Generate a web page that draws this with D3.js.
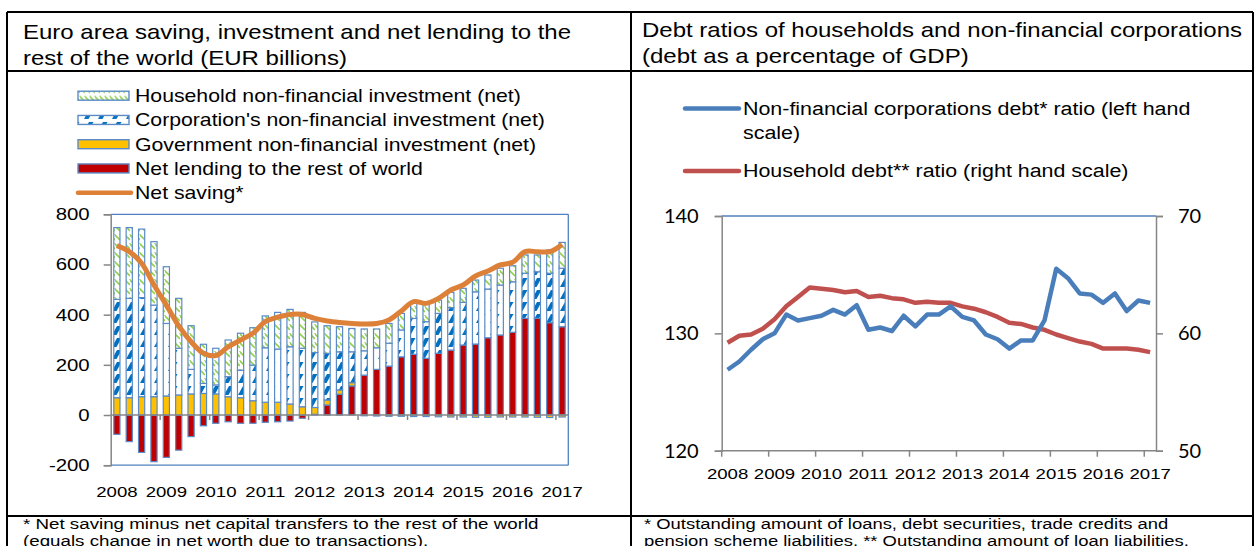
<!DOCTYPE html>
<html>
<head>
<meta charset="utf-8">
<script src="https://cdn.jsdelivr.net/npm/d3@7"></script>
<style>
  body { margin: 0; background: #fff; }
  svg text { font-family: "Liberation Sans", Arial, sans-serif; fill: #000; }
</style>
</head>
<body>
<div id="chart"></div>
<script>
// quarters 2008Q1 .. 2017Q1
var quarters = ['2008Q1','2008Q2','2008Q3','2008Q4','2009Q1','2009Q2','2009Q3','2009Q4',
  '2010Q1','2010Q2','2010Q3','2010Q4','2011Q1','2011Q2','2011Q3','2011Q4',
  '2012Q1','2012Q2','2012Q3','2012Q4','2013Q1','2013Q2','2013Q3','2013Q4',
  '2014Q1','2014Q2','2014Q3','2014Q4','2015Q1','2015Q2','2015Q3','2015Q4',
  '2016Q1','2016Q2','2016Q3','2016Q4','2017Q1'];
var year_labels = ['2008','2009','2010','2011','2012','2013','2014','2015','2016','2017'];

// left panel, EUR billions
var household_inv = [286,282,273,253,226,199,174,156,146,146,147,149,127,146,149,143,122,110,100,93,
  87,75,79,66,60,69,53,61,56,47,56,67,64,73,67,93,103];
var corporate_inv = [392,396,395,365,289,186,98,40,36,80,110,142,217,212,228,233,219,186,152,123,
  97,86,91,107,143,146,159,169,170,208,194,199,201,180,186,197,233];
var government_inv = [69,69,73,73,76,80,84,86,84,73,69,57,51,51,44,33,27,20,17,13,
  -3,-4,-5,-5,-6,-6,-7,-8,-8,-9,-9,-8,-8,-8,-9,-10,-8];
var net_lending = [-77,-106,-149,-186,-169,-140,-86,-43,-33,-27,-33,-33,-29,-27,-24,-13,3,40,83,116,
  159,182,195,232,242,226,246,259,279,283,308,319,330,385,385,368,352];
var net_saving = [675,651,605,518,438,355,292,246,237,272,299,326,372,390,401,401,385,375,369,365,
  363,365,379,415,452,445,465,498,518,554,574,598,609,651,651,651,680];
var left_ticks = [-200,0,200,400,600,800];

// right panel, % of GDP
var nfc_debt = [126.9,127.6,128.6,129.5,130.0,131.6,131.1,131.3,131.5,132.0,131.6,132.4,130.3,130.5,130.2,131.5,
  130.6,131.6,131.6,132.3,131.4,131.1,129.9,129.5,128.7,129.4,129.4,131.1,135.5,134.7,133.4,133.3,
  132.6,133.4,131.9,132.8,132.6];
var hh_debt = [59.2,59.8,59.9,60.4,61.2,62.3,63.1,63.9,63.8,63.7,63.5,63.6,63.1,63.2,63.0,62.9,
  62.6,62.7,62.6,62.6,62.3,62.1,61.8,61.4,60.9,60.8,60.5,60.3,59.9,59.6,59.3,59.1,
  58.7,58.7,58.7,58.6,58.4];
var left_scale_ticks = [120,130,140];
var right_scale_ticks = [50,60,70];

var W = 1255, H = 546;
var grey = '#868686', frame_blue = '#4F81BD';
var SX = 1.2; // source text is drawn wider than plain Arial

var svg = d3.select('#chart').append('svg')
  .attr('width', W).attr('height', H);
svg.append('rect').attr('width', W).attr('height', H).attr('fill', '#fff');

// stretch text horizontally around its anchor point
function stretch(sel, sx) {
  sel.each(function() {
    var t = d3.select(this);
    var x = +t.attr('x') || 0, y = +t.attr('y') || 0;
    t.attr('x', 0).attr('y', 0)
      .attr('transform', 'translate(' + x + ',' + y + ') scale(' + sx + ',1)');
  });
}

var defs = svg.append('defs');
var p_hh = defs.append('pattern').attr('id', 'pat_hh')
  .attr('patternUnits', 'userSpaceOnUse').attr('width', 5).attr('height', 9);
p_hh.append('rect').attr('width', 5).attr('height', 9).attr('fill', '#fff');
p_hh.append('path').attr('d', 'M-1,0 L5,6 M4,-1 L6,1').attr('stroke', '#92D050').attr('stroke-width', 1.6);

var p_corp = defs.append('pattern').attr('id', 'pat_corp')
  .attr('patternUnits', 'userSpaceOnUse').attr('width', 14).attr('height', 12);
p_corp.append('rect').attr('width', 14).attr('height', 12).attr('fill', '#fff');
p_corp.append('path').attr('d', 'M0,11 L5,2 L9.5,2 L4.5,11 Z').attr('fill', '#0070C0');

// ---------------- table frame ----------------
var tbl = { left: 7, mid: 631, right: 1253, top: 12, row1: 71, row2: 516 };
var frame = svg.append('g').attr('stroke', '#000').attr('stroke-width', 2);
frame.append('line').attr('x1', tbl.left).attr('x2', tbl.right).attr('y1', tbl.top).attr('y2', tbl.top);
frame.append('line').attr('x1', tbl.left).attr('x2', tbl.right).attr('y1', tbl.row1).attr('y2', tbl.row1);
frame.append('line').attr('x1', tbl.left).attr('x2', tbl.right).attr('y1', tbl.row2).attr('y2', tbl.row2);
[tbl.left, tbl.mid, tbl.right].forEach(function(x) {
  frame.append('line').attr('x1', x).attr('x2', x).attr('y1', tbl.top).attr('y2', H + 2);
});

function text_lines(x, y0, lh, lines, fs, sx) {
  lines.forEach(function(t, i) {
    svg.append('text').attr('x', x).attr('y', y0 + i * lh)
      .style('font-size', fs + 'px').text(t)
      .call(stretch, sx);
  });
}
text_lines(23, 39, 26, ['Euro area saving, investment and net lending to the',
  'rest of the world (EUR billions)'], 20, SX);
text_lines(642, 37, 26, ['Debt ratios of households and non-financial corporations',
  '(debt as a percentage of GDP)'], 20, SX);
text_lines(23, 529, 17, ['* Net saving minus net capital transfers to the rest of the world',
  '(equals change in net worth due to transactions).'], 15.5, 1.21);
text_lines(644, 529, 17, ['* Outstanding amount of loans, debt securities, trade credits and',
  'pension scheme liabilities. ** Outstanding amount of loan liabilities.'], 15.5, 1.19);

// ---------------- left chart ----------------
var L = { x0: 110.7, x1: 568.3, y0: 214.3, y1: 465.2 };
var x_l = d3.scaleBand().domain(quarters).range([L.x0, L.x1]).paddingInner(0.5).paddingOuter(0.25);
var y_l = d3.scaleLinear().domain([-200, 800]).range([L.y1, L.y0]);

var keys = ['nl', 'gov', 'corp', 'hh'];
var rows = quarters.map(function(q, i) {
  return { q: q, nl: net_lending[i], gov: government_inv[i], corp: corporate_inv[i], hh: household_inv[i] };
});
var series = d3.stack().keys(keys).offset(d3.stackOffsetDiverging)(rows);
var fills = { nl: '#C00000', gov: '#FFC000', corp: 'url(#pat_corp)', hh: 'url(#pat_hh)' };

// frame lines top / right / bottom
var lf = svg.append('g').attr('stroke', frame_blue).attr('stroke-width', 1.3);
lf.append('line').attr('x1', L.x0).attr('x2', L.x1).attr('y1', L.y0).attr('y2', L.y0);
lf.append('line').attr('x1', L.x1).attr('x2', L.x1).attr('y1', L.y0).attr('y2', L.y1);
lf.append('line').attr('x1', L.x0).attr('x2', L.x1).attr('y1', L.y1).attr('y2', L.y1);

svg.append('g').selectAll('g').data(series).join('g')
  .attr('fill', function(d) { return fills[d.key]; })
  .selectAll('rect').data(function(d) { return d; }).join('rect')
  .attr('x', function(d) { return x_l(d.data.q); })
  .attr('width', x_l.bandwidth())
  .attr('y', function(d) { return y_l(Math.max(d[0], d[1])); })
  .attr('height', function(d) { return Math.abs(y_l(d[0]) - y_l(d[1])); })
  .attr('stroke', '#5B8BC6').attr('stroke-width', 1.2);

// y axis
var ax_l = svg.append('g').attr('transform', 'translate(' + L.x0 + ',0)')
  .call(d3.axisLeft(y_l).tickValues(left_ticks).tickSize(7).tickPadding(14)
    .tickFormat(function(d) { return String(d); }));
ax_l.select('.domain').attr('stroke', grey).attr('stroke-width', 1.5);
ax_l.selectAll('.tick line').attr('stroke', grey).attr('stroke-width', 1.5);
ax_l.selectAll('text').attr('font-family', null).style('font-size', '17px').call(stretch, SX);

// zero line with ticks between year groups
var step_l = x_l.step();
var zero_y = y_l(0);
svg.append('line').attr('x1', L.x0).attr('x2', L.x1).attr('y1', zero_y).attr('y2', zero_y)
  .attr('stroke', grey).attr('stroke-width', 1.5);
svg.append('g').selectAll('line').data(year_labels.slice(1)).join('line')
  .attr('x1', function(d, i) { return L.x0 + (i + 1) * 4 * step_l; })
  .attr('x2', function(d, i) { return L.x0 + (i + 1) * 4 * step_l; })
  .attr('y1', zero_y).attr('y2', zero_y + 5)
  .attr('stroke', grey).attr('stroke-width', 1.5);

svg.append('g').selectAll('text').data(year_labels).join('text')
  .attr('x', function(d, i) { return x_l(quarters[i * 4]) + x_l.bandwidth() / 2; })
  .attr('y', 497).attr('text-anchor', 'middle')
  .style('font-size', '15.5px').text(function(d) { return d; })
  .call(stretch, SX);

// net saving line
var line_l = d3.line()
  .x(function(d, i) { return x_l(quarters[i]) + x_l.bandwidth() / 2; })
  .y(function(d) { return y_l(d); })
  .curve(d3.curveCatmullRom);
svg.append('path').datum(net_saving).attr('d', line_l)
  .attr('fill', 'none').attr('stroke', '#DD8038').attr('stroke-width', 5)
  .attr('stroke-linejoin', 'round');

// legend
var leg_items = [
  { name: 'Household non-financial investment (net)', fill: 'url(#pat_hh)' },
  { name: "Corporation's non-financial investment (net)", fill: 'url(#pat_corp)' },
  { name: 'Government non-financial investment (net)', fill: '#FFC000' },
  { name: 'Net lending to the rest of world', fill: '#C00000' },
  { name: 'Net saving*', line: '#DD8038' }
];
var leg = svg.append('g').selectAll('g').data(leg_items).join('g')
  .attr('transform', function(d, i) { return 'translate(0,' + (95.7 + i * 24.25) + ')'; });
leg.filter(function(d) { return !d.line; }).append('rect')
  .attr('x', 78).attr('y', -4.5).attr('width', 51).attr('height', 9)
  .attr('fill', function(d) { return d.fill; })
  .attr('stroke', '#5B8BC6').attr('stroke-width', 1.4);
leg.filter(function(d) { return d.line; }).append('line')
  .attr('x1', 78).attr('x2', 131).attr('y1', 0).attr('y2', 0)
  .attr('stroke', function(d) { return d.line; }).attr('stroke-width', 4.5)
  .attr('stroke-linecap', 'round');
leg.append('text').attr('x', 135).attr('y', 0).attr('dy', '0.36em')
  .style('font-size', '18px').text(function(d) { return d.name; })
  .call(stretch, 1.18);

// ---------------- right chart ----------------
var R = { x0: 721.7, x1: 1156, y0: 216, y1: 450.7 };
var x_r = d3.scalePoint().domain(quarters).range([R.x0, R.x1]).padding(0.5);
var step_r = x_r.step();
var yl_r = d3.scaleLinear().domain([120, 140]).range([R.y1, R.y0]);
var yr_r = d3.scaleLinear().domain([50, 70]).range([R.y1, R.y0]);

svg.append('line').attr('x1', R.x0).attr('x2', R.x1).attr('y1', R.y0).attr('y2', R.y0)
  .attr('stroke', frame_blue).attr('stroke-width', 1.3);

var ax_rl = svg.append('g').attr('transform', 'translate(' + R.x0 + ',0)')
  .call(d3.axisLeft(yl_r).tickValues(left_scale_ticks).tickSize(7).tickPadding(16));
var ax_rr = svg.append('g').attr('transform', 'translate(' + R.x1 + ',0)')
  .call(d3.axisRight(yr_r).tickValues(right_scale_ticks).tickSize(7).tickPadding(15));
[ax_rl, ax_rr].forEach(function(a) {
  a.select('.domain').attr('stroke', grey).attr('stroke-width', 1.5);
  a.selectAll('.tick line').attr('stroke', grey).attr('stroke-width', 1.5);
  a.selectAll('text').attr('font-family', null).style('font-family', 'Lato, sans-serif').style('font-size', '20px');
});

svg.append('line').attr('x1', R.x0).attr('x2', R.x1).attr('y1', R.y1).attr('y2', R.y1)
  .attr('stroke', grey).attr('stroke-width', 1.5);
svg.append('g').selectAll('line').data(year_labels).join('line')
  .attr('x1', function(d, i) { return R.x0 + i * 4 * step_r; })
  .attr('x2', function(d, i) { return R.x0 + i * 4 * step_r; })
  .attr('y1', R.y1).attr('y2', R.y1 + 6)
  .attr('stroke', grey).attr('stroke-width', 1.5);
svg.append('g').selectAll('text').data(year_labels).join('text')
  .attr('x', function(d, i) { return x_r(quarters[i * 4]); })
  .attr('y', 479).attr('text-anchor', 'middle')
  .style('font-size', '15.5px').text(function(d) { return d; })
  .call(stretch, SX);

var line_nfc = d3.line()
  .x(function(d, i) { return x_r(quarters[i]); })
  .y(function(d) { return yl_r(d); });
var line_hh = d3.line()
  .x(function(d, i) { return x_r(quarters[i]); })
  .y(function(d) { return yr_r(d); });
svg.append('path').datum(hh_debt).attr('d', line_hh)
  .attr('fill', 'none').attr('stroke', '#C0504D').attr('stroke-width', 4.5)
  .attr('stroke-linejoin', 'round');
svg.append('path').datum(nfc_debt).attr('d', line_nfc)
  .attr('fill', 'none').attr('stroke', '#4A7EBB').attr('stroke-width', 4.5)
  .attr('stroke-linejoin', 'round');

var leg_r = [
  { lines: ['Non-financial corporations debt* ratio (left hand', 'scale)'], color: '#4A7EBB', y: 108.5 },
  { lines: ['Household debt** ratio (right hand scale)'], color: '#C0504D', y: 171 }
];
leg_r.forEach(function(d) {
  svg.append('line').attr('x1', 685).attr('x2', 739).attr('y1', d.y).attr('y2', d.y)
    .attr('stroke', d.color).attr('stroke-width', 4.5).attr('stroke-linecap', 'round');
  d.lines.forEach(function(t, i) {
    svg.append('text').attr('x', 743).attr('y', d.y + i * 24.5).attr('dy', '0.36em')
      .style('font-size', '18px').text(t)
      .call(stretch, 1.19);
  });
});
</script>
</body>
</html>
